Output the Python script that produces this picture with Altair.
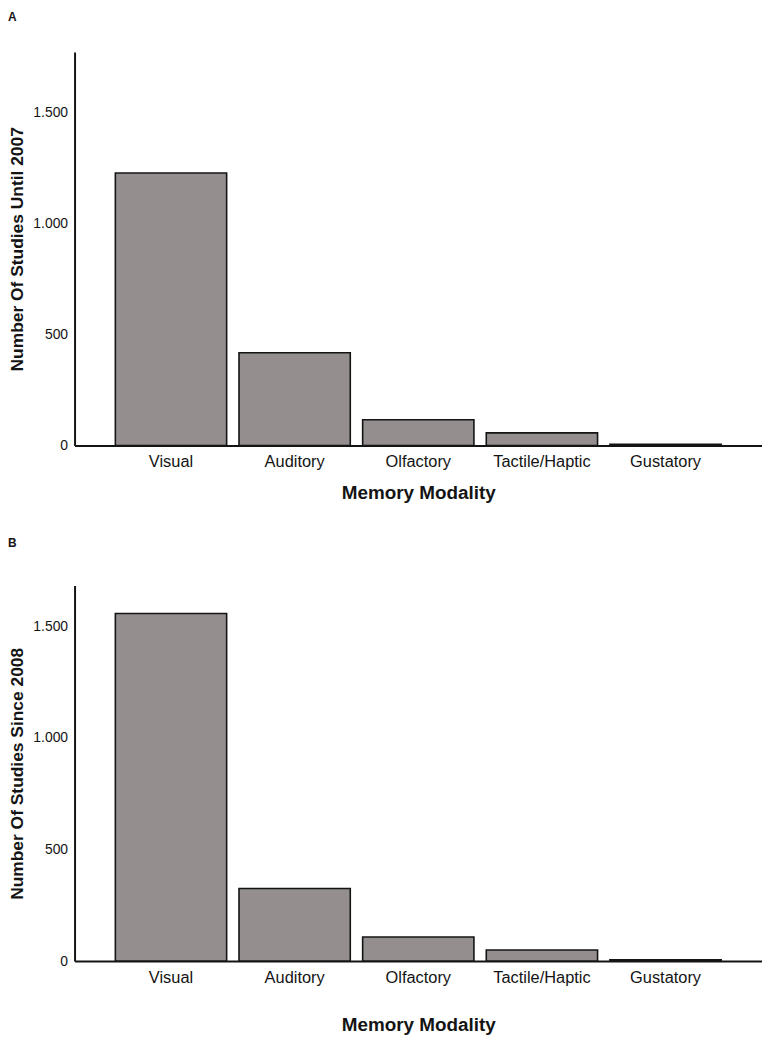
import altair as alt
import pandas as pd

categories = ["Visual", "Auditory", "Olfactory", "Tactile/Haptic", "Gustatory"]
until_2007 = [1228, 418, 116, 57, 6]
since_2008 = [1557, 325, 108, 50, 6]

FONT = "Liberation Sans"
BAR_FILL = "#948f8e"
INK = "#141414"


def panel(values, letter, ytitle, ymax, height, letter_y, lpad, tpad):
    df = pd.DataFrame({"modality": categories, "count": values})
    bars = alt.Chart(df).mark_bar(
        fill=BAR_FILL, stroke=INK, strokeWidth=1.6
    ).encode(
        x=alt.X(
            "modality:N",
            sort=categories,
            scale=alt.Scale(paddingInner=0.1, paddingOuter=0.33),
            axis=alt.Axis(
                title="Memory Modality",
                titleFont=FONT, titleFontSize=19, titleFontWeight="bold",
                titleColor=INK, titlePadding=tpad,
                labelFont=FONT, labelFontSize=16.5, labelColor=INK,
                labelPadding=lpad, labelAngle=0,
                ticks=False, domainColor=INK, domainWidth=2,
            ),
        ),
        y=alt.Y(
            "count:Q",
            scale=alt.Scale(domain=[0, ymax], nice=False, zero=True),
            axis=alt.Axis(
                title=ytitle, values=[0, 500, 1000, 1500],
                labelExpr="replace(format(datum.value, ','), ',', '.')",
                titleFont=FONT, titleFontSize=17.5, titleFontWeight="bold",
                titleColor=INK, titlePadding=6,
                labelFont=FONT, labelFontSize=14, labelColor=INK,
                labelPadding=7, ticks=False, grid=False,
                domainColor=INK, domainWidth=2,
            ),
        ),
    )
    lab = alt.Chart(pd.DataFrame({"t": [letter]})).mark_text(
        font=FONT, fontSize=12, fontWeight="bold", color=INK,
        align="left", baseline="top",
    ).encode(
        x=alt.value(-67), y=alt.value(letter_y), text="t:N"
    )
    return alt.layer(bars, lab).properties(width=692, height=height)


a = panel(until_2007, "A", "Number Of Studies Until 2007", 1773, 396, -40, 8, 14)
b = panel(since_2008, "B", "Number Of Studies Since 2008", 1682, 378, -48, 9, 29)

chart = alt.vconcat(a, b, spacing=34).properties(
    padding={"left": 0, "top": 0, "right": 0, "bottom": 0}
).configure_view(stroke=None)

chart.save("out.html", embed_options={"renderer": "svg", "actions": False})
